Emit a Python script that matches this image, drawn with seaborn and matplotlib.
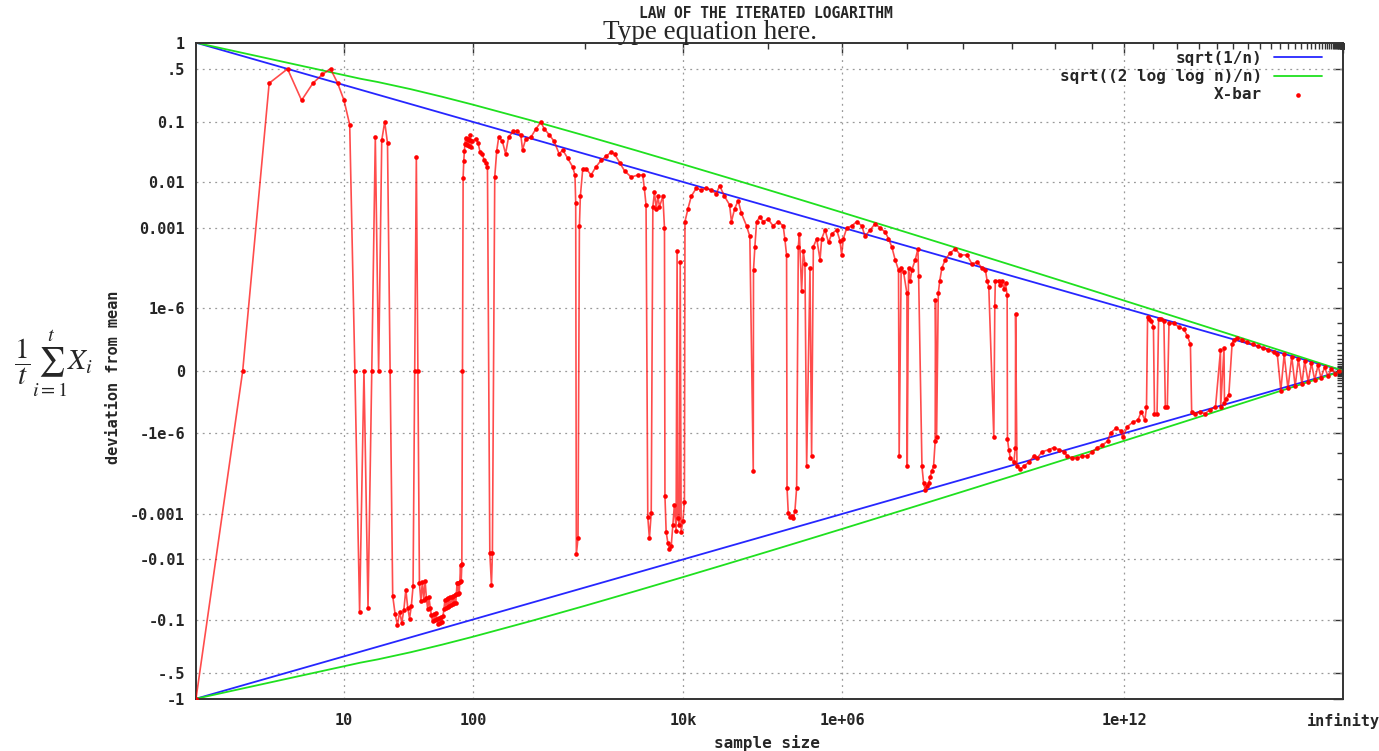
import numpy as np
import matplotlib
matplotlib.use("Agg")
import matplotlib.pyplot as plt
import seaborn as sns
from matplotlib.ticker import FixedLocator, FixedFormatter, NullFormatter

# ---------------- data ----------------
# running sums S_n of the first 96 steps (X-bar = S_n / n)
walk_sum = [-1, 0, 1, 2, 1, 2, 3, 4, 3, 2, 1, 0, -1, 0, -1, 0, 1, 0, 1, 2, 1, 0,
            -1, -2, -3, -2, -3, -2, -1, -2, -3, -2,
            -1, 0, 1, 0, -1, -2, -1, -2, -1, -2,
            -3, -2, -3, -4, -5, -4, -5, -4, -5, -6,
            -5, -6, -5, -6, -5, -4, -3, -4, -3, -4,
            -3, -4, -3, -4, -3, -4, -3, -4, -3, -4,
            -3, -2, -3, -2, -3, -2, -1, -2, -1, 0,
            1, 2, 3, 4, 5, 4, 5, 4, 5, 4,
            5, 6, 5, 4]

# later samples: log10(sample size) and X-bar
late_log10_n = [
    1.996, 2.024, 2.043, 2.060, 2.080, 2.094, 2.108, 2.122, 2.142, 2.156,
    2.164, 2.184, 2.201, 2.218, 2.249, 2.277, 2.303, 2.345, 2.378, 2.410,
    2.425, 2.453, 2.500, 2.544, 2.589, 2.619, 2.665, 2.710, 2.756, 2.788,
    2.834, 2.881, 2.903, 2.910, 2.916, 2.932, 2.945, 2.954, 2.977, 3.009,
    3.056, 3.104, 3.153, 3.202, 3.252, 3.286, 3.336, 3.387, 3.453, 3.522,
    # 10k region
    3.572, 3.588, 3.606, 3.624, 3.641, 3.660, 3.677, 3.694, 3.712, 3.730,
    3.747, 3.783, 3.800, 3.805, 3.818, 3.836, 3.853, 3.872, 3.890, 3.907,
    3.925, 3.936, 3.944, 3.960, 3.970, 3.980, 3.999, 4.016, 4.022, 4.055,
    4.092, 4.148, 4.205, 4.261, 4.318, 4.375, 4.413, 4.470, 4.530, 4.552,
    4.590, 4.632, 4.671, 4.733, 4.773, 4.815, 4.818, 4.835, 4.856, 4.896,
    4.938, 5.000, 5.063, 5.127, 5.192, 5.213, 5.236, 5.242, 5.258, 5.280,
    5.301, 5.324, 5.345, 5.368, 5.390, 5.405,
    # 1e+06 region
    5.434, 5.457, 5.479, 5.502, 5.547, 5.569, 5.593, 5.639, 5.685, 5.708,
    5.755, 5.803, 5.848, 5.919, 5.966, 5.990, 6.015, 6.064, 6.138, 6.212,
    6.286, 6.337, 6.414, 6.491, 6.569, 6.647, 6.700, 6.753, 6.807, 6.862,
    6.872, 6.905, 6.944, 7.000, 7.005, 7.027, 7.054, 7.082, 7.140, 7.185,
    7.197, 7.254, 7.283, 7.311, 7.340, 7.369, 7.397, 7.427, 7.456, 7.485,
    7.490, 7.510, 7.540, 7.567, 7.605, 7.666, 7.759, 7.852, 7.946,
    # 1e+08 .. 1e+12
    8.074, 8.171, 8.270, 8.369, 8.436, 8.471, 8.505, 8.608, 8.629, 8.640,
    8.710, 8.748, 8.783, 8.820, 8.855, 8.890, 8.897, 8.926, 8.960, 9.036,
    9.070, 9.075, 9.105, 9.180, 9.260, 9.370, 9.490, 9.570, 9.690, 9.850,
    9.970, 10.10, 10.23, 10.32, 10.45, 10.59, 10.72, 10.86, 11.01, 11.15,
    11.30, 11.46, 11.56, 11.72, 11.88,
    # towards infinity
    11.94, 12.10, 12.28, 12.46, 12.58, 12.71, 12.77, 12.81, 12.87, 12.95,
    13.03, 13.07, 13.17, 13.23, 13.31, 13.44, 13.50, 13.58, 13.65, 13.86,
    14.08, 14.30, 14.45, 14.60, 14.66, 14.81, 15.07, 15.33, 15.60, 15.90,
    16.19, 16.20, 16.40, 16.43, 16.50, 16.70, 16.91, 17.02, 17.25, 17.60,
    17.98, 18.40, 18.82, 19.30, 19.76, 20.30, 20.70, 21.10, 21.50, 21.98,
    22.50, 23.00, 23.50, 24.10, 24.60, 25.30, 26.00, 26.80, 27.70, 28.60,
    29.90, 31.30, 33.30, 36.40, 41.0,
]
late_xbar = [
    0.0506, 0.056, 0.048, 0.034, 0.0316, 0.0246, 0.0226, 0.019, -0.0075, -0.0285,
    -0.0075, 0.0124, 0.036, 0.059, 0.051, 0.032, 0.059, 0.073, 0.073, 0.064,
    0.037, 0.055, 0.059, 0.079, 0.099, 0.079, 0.064, 0.0506, 0.0316, 0.037,
    0.027, 0.019, 0.0135, 0.0038, -0.0079, -0.0037, 0.0011, 0.0052, 0.0176, 0.0176,
    0.0135, 0.019, 0.0246, 0.029, 0.034, 0.0316, 0.0226, 0.016, 0.0124, 0.0135,
    # 10k region
    0.0135, 0.0076, 0.0034, -0.0012, -0.0037, -0.00095, 0.0031, 0.0063, 0.0028, 0.0052,
    0.0031, 0.0052, 0.00097, -0.00033, -0.0027, -0.0046, -0.0062, -0.0055, -0.0019, -0.00057,
    -0.0025, 0.00022, -0.0013, -0.0019, 0.0001, -0.0027, -0.0015, -0.0005, 0.0014, 0.0028,
    0.0052, 0.0076, 0.0069, 0.0076, 0.0069, 0.0058, 0.0085, 0.0052, 0.0034, 0.0014,
    0.0028, 0.0042, 0.0022, 0.0011, 0.00059, -5e-5, 5.3e-5, 0.0003, 0.0014, 0.0018,
    0.0014, 0.0016, 0.0011, 0.0014, 0.0011, 0.00051, 0.00017, -0.00019, -0.00095, -0.0012,
    -0.0011, -0.0013, -0.00085, -0.00019, 0.0003, 0.0007,
    # 1e+06 region
    7.6e-6, 0.00022, 8.5e-5, -3.5e-5, 6.3e-5, -1.35e-5, 0.0003, 0.00051, 0.00012, 0.00051,
    0.00087, 0.0004, 0.00068, 0.00087, 0.00045, 0.00017, 0.00051, 0.00097, 0.0011, 0.0014,
    0.0011, 0.00059, 0.00087, 0.00125, 0.00097, 0.00077, 0.00051, 0.0003, 0.00012, 5.3e-5,
    -1.35e-5, 6.3e-5, 4.5e-5, 5.9e-6, -3.5e-5, 6.3e-5, 2.1e-5, 5.3e-5, 0.00012, 0.00026,
    3.1e-5, -3.5e-5, -0.000136, -0.00022, -0.00016, -0.000136, -8.3e-5, -5e-5, -3.5e-5, -2.7e-6,
    2.9e-6, -1.7e-6, 5.9e-6, 2.1e-5, 6.3e-5, 0.00012, 0.0002, 0.00026, 0.00017,
    # 1e+08 .. 1e+12
    0.00017, 8.5e-5, 0.0001, 6.3e-5, 5.3e-5, 2.1e-5, 1.15e-5, -1.7e-6, 1.35e-6, 2.1e-5,
    2.1e-5, 1.4e-5, 2.1e-5, 9.3e-6, 1.7e-5, 4.7e-6, -2.1e-6, -7e-6, -1.6e-5, -2.4e-5,
    -5.6e-6, 4.2e-7, -3.5e-5, -4.3e-5, -3.5e-5, -2.4e-5, -1.35e-5, -1.6e-5, -8.7e-6, -7e-6,
    -5.6e-6, -7e-6, -8.7e-6, -1.35e-5, -1.6e-5, -1.6e-5, -1.35e-5, -1.35e-5, -8.7e-6, -5.6e-6,
    -4.4e-6, -2.7e-6, -9.3e-7, -5.2e-7, -7e-7,
    # towards infinity
    -1.7e-6, -3.9e-7, -2e-7, -1.4e-7, -3e-8, -1.4e-7, -1.2e-8, 3e-7, 2.2e-7, 1.5e-7,
    4.9e-8, -4.5e-8, -4.5e-8, 2.2e-7, 2.2e-7, 1.5e-7, -1.2e-8, -1.2e-8, 1e-7, 1e-7,
    4.9e-8, 3.2e-8, 8e-9, 8.3e-10, -3e-8, -4.5e-8, -3e-8, -4.5e-8, -1.9e-8, -1.2e-8,
    8.7e-11, -1.2e-8, 1.9e-10, -4.3e-9, -1.3e-9, -3.4e-10, 8.3e-10, 2.8e-9, 4.9e-9, 2.8e-9,
    1.5e-9, 8.3e-10, 4.1e-10, 1.9e-10, 8.7e-11, 3.5e-11, 1.3e-11, -7e-11, 1.3e-11, -2.8e-11,
    4e-12, -1e-11, 1e-12, -3e-12, 2e-13, -6e-13, 2.5e-14, -1.3e-13, 1.6e-15, -1.3e-14,
    3e-17, -7e-16, 1e-20, -6e-18, 0.0,
]
assert len(late_log10_n) == len(late_xbar)

# sample sizes (log10) at which the bound curves are drawn
bound_log10_n = [0, 1.12, 1.25, 1.5, 1.75, 2, 2.5, 3, 3.5, 4, 4.5, 5, 5.5, 6, 7, 8,
                 9, 10, 11, 12, 13, 14, 15, 16, 18, 20, 22, 25, 28, 32, 36, 42, 50,
                 65, 90, 150, 1000]

x_tick_pos = [1, 2, 4, 6, 12, 1000]
x_tick_labels = ["10", "100", "10k", "1e+06", "1e+12", "infinity"]
y_tick_pos = [-1, -0.5, -0.1, -0.01, -0.001, -1e-6, 0, 1e-6, 0.001, 0.01, 0.1, 0.5, 1]
y_tick_labels = ["-1", "-.5", "-0.1", "-0.01", "-0.001", "-1e-6", "0",
                 "1e-6", "0.001", "0.01", "0.1", ".5", "1"]

# ---------------- derived series ----------------
early_n = np.arange(1, len(walk_sum) + 1)
xbar_L = np.concatenate([np.log10(early_n), np.array(late_log10_n)])
xbar_v = np.concatenate([np.array(walk_sum) / early_n, np.array(late_xbar)])

bL = np.array(bound_log10_n, float)
blue_v = np.power(10.0, -bL / 2)                     # sqrt(1/n)
with np.errstate(divide="ignore", invalid="ignore"):
    green_v = np.sqrt(2 * np.log(bL * np.log(10))) * np.power(10.0, -bL / 2)
green_v = np.where(bL > 0, green_v, 1.0)

# ---------------- scales ----------------
PY, PX = 0.12, 0.06


def fwd_y(v):
    v = np.asarray(v, float)
    return np.sign(v) * np.abs(v) ** PY


def inv_y(u):
    u = np.asarray(u, float)
    return np.sign(u) * np.abs(u) ** (1.0 / PY)


def fwd_x(L):
    L = np.asarray(L, float)
    with np.errstate(over="ignore", invalid="ignore"):
        return 1.0 - np.power(10.0, -PX * L)


def inv_x(u):
    u = np.minimum(np.asarray(u, float), 1 - 1e-15)
    with np.errstate(divide="ignore", invalid="ignore"):
        return -np.log10(1.0 - u) / PX


# ---------------- figure ----------------
sns.set_style("white")
plt.rcParams["font.family"] = ["DejaVu Sans Mono", "DejaVu Sans"]

W, H = 1379, 751
fig = plt.figure(figsize=(W / 100, H / 100), dpi=100)
ax = fig.add_axes([196 / W, 1 - 698.7 / H, 1147 / W, 656 / H])

BLUE = "#2626ff"
GREEN = "#1fe01f"
RED = "#ff0000"

sns.lineplot(x=bL, y=blue_v, ax=ax, color=BLUE, lw=1.3, sort=False,
             estimator=None, label="sqrt(1/n)", zorder=2)
sns.lineplot(x=bL, y=green_v, ax=ax, color=GREEN, lw=1.3, sort=False,
             estimator=None, label="sqrt((2 log log n)/n)", zorder=2)
sns.lineplot(x=bL, y=-blue_v, ax=ax, color=BLUE, lw=1.3, sort=False,
             estimator=None, zorder=2)
sns.lineplot(x=bL, y=-green_v, ax=ax, color=GREEN, lw=1.3, sort=False,
             estimator=None, zorder=2)
sns.lineplot(x=xbar_L, y=xbar_v, ax=ax, color=RED, lw=1.2, alpha=0.7,
             sort=False, estimator=None, zorder=3)
sns.scatterplot(x=xbar_L, y=xbar_v, ax=ax, color=RED, s=11, linewidth=0,
                label="X-bar", zorder=4)

ax.set_xscale("function", functions=(fwd_x, inv_x))
ax.set_yscale("function", functions=(fwd_y, inv_y))
ax.set_xlim(0, 1000)
ax.set_ylim(-1, 1)

# ticks
ax.xaxis.set_major_locator(FixedLocator(x_tick_pos))
ax.xaxis.set_major_formatter(FixedFormatter(x_tick_labels))
ax.xaxis.set_minor_locator(FixedLocator([3, 5, 7, 8, 9, 10, 11] + list(range(13, 160))))
ax.xaxis.set_minor_formatter(NullFormatter())
ax.yaxis.set_major_locator(FixedLocator(y_tick_pos))
ax.yaxis.set_major_formatter(FixedFormatter(y_tick_labels))
ks = [4, 5] + list(range(7, 60))
ax.yaxis.set_minor_locator(FixedLocator([10.0 ** -k for k in ks] + [-(10.0 ** -k) for k in ks]))
ax.yaxis.set_minor_formatter(NullFormatter())

ax.tick_params(which="both", direction="in", top=True, right=True,
               color="#333333", width=1.0)
ax.tick_params(which="major", length=7)
ax.tick_params(which="minor", length=4)
ax.tick_params(axis="x", which="major", pad=10, labelsize=11)
ax.tick_params(axis="y", which="major", pad=8, labelsize=11)
for lab in ax.get_xticklabels() + ax.get_yticklabels():
    lab.set_fontweight("bold")

# grid (no line at the 'infinity' edge)
gkw = dict(color="#9a9a9a", lw=0.9, ls=(0, (1.5, 3.5)), zorder=1)
for L in x_tick_pos[:-1]:
    ax.axvline(L, **gkw)
for v in y_tick_pos[1:-1]:
    ax.axhline(v, **gkw)

for sp in ax.spines.values():
    sp.set_color("#333333")
    sp.set_linewidth(1.4)

ax.set_xlabel("sample size", fontsize=11.5, fontweight="bold")
ax.set_ylabel("deviation from mean", fontsize=11, fontweight="bold")
ax.xaxis.set_label_coords((767 - 196) / 1147, -(735 - 698.7) / 656)
ax.yaxis.set_label_coords((121 - 196) / 1147, 0.49)

# legend
h, l = ax.get_legend_handles_labels()
order = [l.index("sqrt(1/n)"), l.index("sqrt((2 log log n)/n)"), l.index("X-bar")]
leg = ax.legend([h[i] for i in order], [l[i] for i in order], loc="upper right",
                bbox_to_anchor=((1322 - 196) / 1147, 1 - (51 - 42.7) / 656),
                frameon=False, markerfirst=False, borderaxespad=0, borderpad=0,
                handlelength=3.0, handletextpad=0.75, labelspacing=0.2,
                prop={"family": "DejaVu Sans Mono", "weight": "bold", "size": 11.5})

# texts
fig.text(766 / W, 1 - 14 / H, "LAW OF THE ITERATED LOGARITHM", ha="center",
         va="center", fontsize=10.5, fontweight="bold")
fig.text(710 / W, 1 - 39 / H, "Type equation here.", ha="center",
         va="baseline", fontsize=19.5, family="Liberation Serif")
fig.text(14 / W, 1 - 364 / H, r"$\dfrac{1}{t}\sum_{i=1}^{t} X_i$", ha="left",
         va="center", fontsize=21, math_fontfamily="stix")

fig.savefig("out.png", dpi=100)
